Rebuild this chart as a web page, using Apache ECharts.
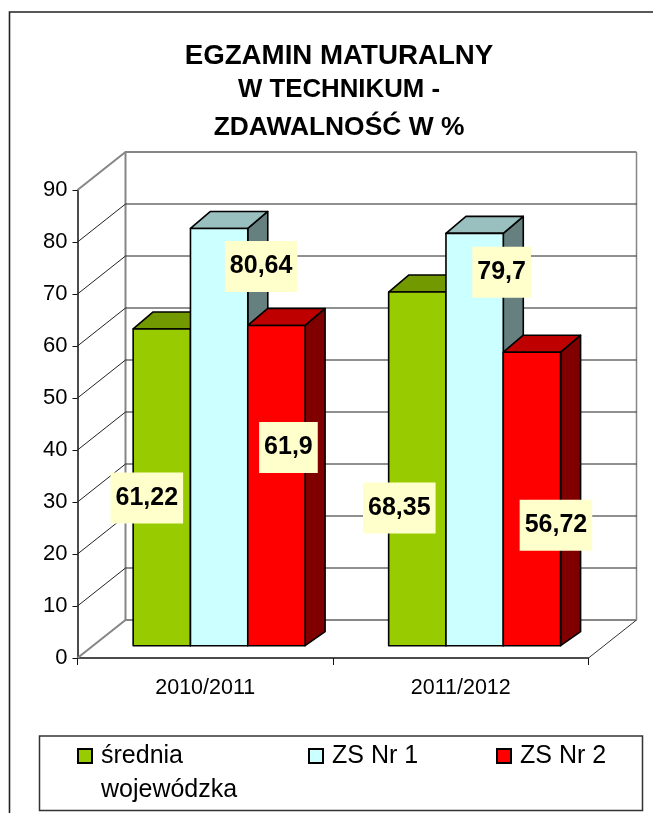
<!DOCTYPE html>
<html>
<head>
<meta charset="utf-8">
<style>html,body{margin:0;padding:0;background:#fff}#c{width:653px;height:813px}</style>
<script src="https://cdn.jsdelivr.net/npm/echarts@6/dist/echarts.min.js"></script>
</head>
<body>
<div id="c"></div>
<script>
var categories = ['2010/2011', '2011/2012'];
var srednia = [61.22, 68.35];
var zsNr1 = [80.64, 79.7];
var zsNr2 = [61.9, 56.72];
var yTicks = [0, 10, 20, 30, 40, 50, 60, 70, 80, 90];
var titleLines = ['EGZAMIN MATURALNY', 'W TECHNIKUM -', 'ZDAWALNOŚĆ W %'];
var seriesNames = ['średnia wojewódzka', 'ZS Nr 1', 'ZS Nr 2'];

var FONT = '"Liberation Sans", Arial, sans-serif';
var WALL = {dx: 48, dy: 38};
var BAR = {width: 0.2243, groupOffset: 0.0543, base: 12.3, depthScale: 0.995, dx: 20, dyTop: 17, dyBottom: 14};
var palette = [
  {front: '#99CC00', top: '#739900', side: '#4D6600'},
  {front: '#CCFFFF', top: '#99BFBF', side: '#668080'},
  {front: '#FF0000', top: '#BF0000', side: '#800000'}
];
// Hand-placed label centres as pixel offsets from the bar's top-centre
var labelShift = [
  [[-15, 169], [-18, 216]],
  [[42, 38], [27, 39]],
  [[12, 122], [24, 173]]
];

function wallItem(params, api) {
  var v = api.value(0), cs = params.coordSys;
  var y = api.coord([0, v])[1];
  var x0 = cs.x, x1 = cs.x + cs.width;
  var edge = (v === 0 || v === 90);
  var children = [{
    type: 'polyline', silent: true,
    shape: {points: [[x0, y], [x0 + WALL.dx, y - WALL.dy], [x1 + WALL.dx, y - WALL.dy]]},
    style: {fill: null, stroke: edge ? '#868686' : '#222', lineWidth: edge ? 2 : 1}
  }];
  if (v === 0) {
    children.push({type: 'line', silent: true,
      shape: {x1: x1, y1: y, x2: x1 + WALL.dx, y2: y - WALL.dy},
      style: {stroke: '#333', lineWidth: 1}});
    children.push({type: 'line', silent: true,
      shape: {x1: x0 + WALL.dx, y1: y - WALL.dy, x2: x0 + WALL.dx, y2: cs.y - WALL.dy},
      style: {stroke: '#868686', lineWidth: 2}});
    children.push({type: 'line', silent: true,
      shape: {x1: x1 + WALL.dx, y1: y - WALL.dy, x2: x1 + WALL.dx, y2: cs.y - WALL.dy},
      style: {stroke: '#868686', lineWidth: 1.5}});
  }
  return {type: 'group', children: children};
}

function barItem(si) {
  return function (params, api) {
    var cat = api.value(0), val = api.value(1);
    var band = api.size([1, 0])[0];
    var w = band * BAR.width;
    var c = api.coord([cat, val]);
    var zero = api.coord([cat, 0])[1];
    var y0 = zero - BAR.base;
    var yTop = y0 - (zero - c[1]) * BAR.depthScale;
    var left = c[0] + band * BAR.groupOffset + (si - 1.5) * w;
    var right = left + w;
    var col = palette[si];
    var poly = function (pts, fill) {
      return {type: 'polygon', silent: true, shape: {points: pts},
        style: {fill: fill, stroke: '#000', lineWidth: 1.6, lineJoin: 'round'}};
    };
    var sh = labelShift[si][cat];
    return {type: 'group', children: [
      poly([[right, y0], [right + BAR.dx, y0 - BAR.dyBottom], [right + BAR.dx, yTop - BAR.dyTop], [right, yTop]], col.side),
      poly([[left, yTop], [left + BAR.dx, yTop - BAR.dyTop], [right + BAR.dx, yTop - BAR.dyTop], [right, yTop]], col.top),
      poly([[left, y0], [right, y0], [right, yTop], [left, yTop]], col.front),
      {type: 'text', silent: true, z2: 100,
        x: (left + right) / 2 + sh[0], y: yTop + sh[1],
        style: {
          text: String(val).replace('.', ','),
          font: 'bold 25px ' + FONT, fill: '#000',
          align: 'center', verticalAlign: 'middle',
          backgroundColor: '#FFFFCC', padding: [13, 5, 13, 5]
        }}
    ]};
  };
}

function barSeries(si, values) {
  return {
    type: 'custom', name: seriesNames[si], coordinateSystem: 'cartesian2d', z: 3,
    renderItem: barItem(si), clip: false,
    itemStyle: {color: palette[si].front, borderColor: '#000', borderWidth: 1.5},
    encode: {x: 0, y: 1},
    data: values.map(function (v, i) { return [i, v]; })
  };
}

function legendAt(left, top, name, fmt) {
  return {
    left: left, top: top, padding: 0, orient: 'horizontal', selectedMode: false,
    itemWidth: 14, itemHeight: 14, itemGap: 6, icon: 'rect',
    data: [name],
    formatter: fmt,
    textStyle: {fontFamily: FONT, fontSize: 25, color: '#000', lineHeight: 34, padding: [0, 0, 0, 4]}
  };
}
function twoLines(n) { return '\n' + n.replace(' ', '\n'); }
function oneLine(n) { return n; }

var titleTops = [42, 77, 115];
var titleSizes = [27.7, 25.8, 26.4];
var chart = echarts.init(document.getElementById('c'), null, {renderer: 'canvas'});
chart.setOption({
  backgroundColor: '#fff',
  animation: false,
  title: titleLines.map(function (t, i) {
    return {text: t, left: 339, textAlign: 'center', top: titleTops[i], padding: 0,
      textStyle: {fontFamily: FONT, fontWeight: 'bold', fontSize: titleSizes[i], color: '#000'}};
  }),
  legend: [
    legendAt(77, 705, seriesNames[0], twoLines),
    legendAt(308, 739, seriesNames[1], oneLine),
    legendAt(496, 739, seriesNames[2], oneLine)
  ],
  grid: {left: 77.5, top: 190, width: 511, height: 468, containLabel: false},
  xAxis: {
    type: 'category', data: categories, boundaryGap: true,
    axisLine: {lineStyle: {color: '#111', width: 1.5}},
    axisTick: {show: true, length: 7, lineStyle: {color: '#111', width: 1}},
    axisLabel: {fontFamily: FONT, fontSize: 21.5, color: '#000', margin: 19},
    splitLine: {show: false}
  },
  yAxis: {
    type: 'value', min: 0, max: 90, interval: 10,
    axisLine: {show: true, lineStyle: {color: '#111', width: 1.5}},
    axisTick: {show: true, length: 5, lineStyle: {color: '#111', width: 1}},
    axisLabel: {fontFamily: FONT, fontSize: 22, color: '#000', margin: 10, padding: [3, 0, 0, 0]},
    splitLine: {show: false}
  },
  graphic: [
    {type: 'polyline', silent: true, z: -1,
      shape: {points: [[9.5, 813], [9.5, 12], [653, 12]]},
      style: {fill: null, stroke: '#222', lineWidth: 1.6}},
    {type: 'rect', silent: true, z: -1,
      shape: {x: 39.5, y: 736, width: 603, height: 74.5},
      style: {fill: '#fff', stroke: '#333', lineWidth: 1.5}}
  ],
  series: [
    {type: 'custom', name: 'walls', coordinateSystem: 'cartesian2d', z: 1, clip: false,
      renderItem: wallItem, encode: {y: 0},
      data: yTicks.map(function (v) { return [v]; })},
    barSeries(0, srednia),
    barSeries(1, zsNr1),
    barSeries(2, zsNr2)
  ]
});
</script>
</body>
</html>
